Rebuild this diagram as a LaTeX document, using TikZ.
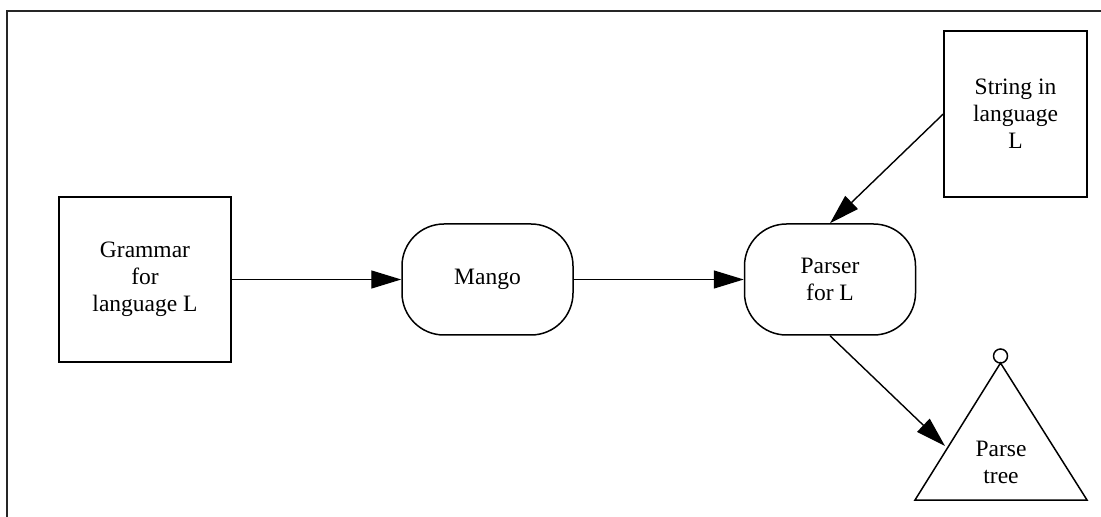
\documentclass[tikz,border=0pt]{standalone}
\usepackage{fontspec}
\setmainfont{Liberation Serif}
\usetikzlibrary{arrows.meta}
\tikzset{
  box/.style={draw,line width=0.75pt,align=center,inner sep=0pt},
  prog/.style={draw,line width=0.75pt,rounded corners=21pt,align=center,minimum width=85.5pt,minimum height=55.5pt},
  flow/.style={-{Triangle[length=15pt,width=9pt]},line width=0.7pt}
}

\begin{document}
\begin{tikzpicture}[x=0.5pt,y=-0.5pt,font=\fontsize{11.75}{13.5}\selectfont]
      \useasboundingbox (0,0) rectangle (1101,517);
      \draw[line width=0.9pt,black!85] (1101,11) -- (7,11) -- (7,517);
      \node[box,minimum width=86pt,minimum height=82.5pt] (grammar) at (145,279.5) {Grammar\\for\\language L};
      \node[box,minimum width=71.5pt,minimum height=83pt] (string) at (1015.5,114) {String in\\language\\L};
      \node[prog] (mango) at (487.5,279.5) {Mango};
      \node[prog] (parser) at (830,279.5) {Parser\\for L};
    % parse tree
      \draw[line width=0.75pt] (1000.5,363) -- (915,500) -- (1087,500) -- cycle;
      \draw[line width=0.75pt] (1000.5,356) circle (3.5pt);
      \node[align=center] (tree) at (1001,462) {Parse\\tree};
      \coordinate (treeside) at (945,446);
    % arrows
      \draw[flow] (grammar) -- (mango);
      \draw[flow] (mango) -- (parser);
      \draw[flow] (string.west) -- (parser.north);
      \draw[flow] (parser.south) -- (treeside);
\end{tikzpicture}
\end{document}
